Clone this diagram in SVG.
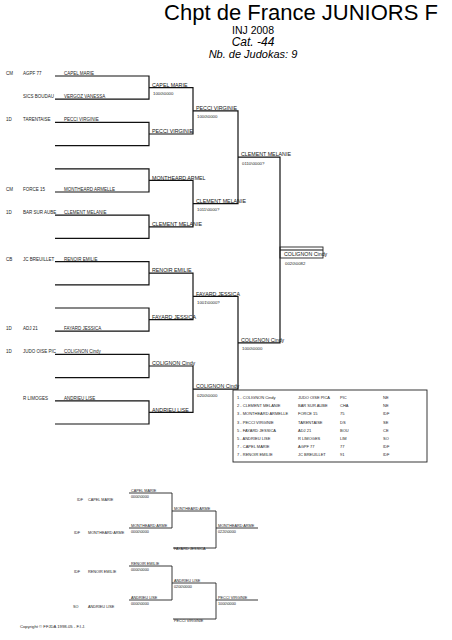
<svg xmlns="http://www.w3.org/2000/svg" width="452" height="640" viewBox="0 0 452 640">
<style>
text{font-family:"Liberation Sans",Arial,sans-serif;fill:#222}
.ti{font-size:22px;fill:#000}
.st{font-size:10.5px;fill:#000}
.it{font-style:italic}
.n1{font-size:4.5px}
.w{font-size:5.3px;fill:#111}
.s{font-size:4.3px}
.tb{font-size:4px}
.rp{font-size:3.8px}
.rs{font-size:3.8px}
.cp{font-size:4.2px}
.ln{stroke:#111;stroke-width:1.2;fill:none}
.lt{stroke:#222;stroke-width:0.9;fill:none}
</style>
<rect width="452" height="640" fill="#fff"/>
<g id="header">
<text class="ti" x="301" y="20" text-anchor="middle">Chpt de France JUNIORS F</text>
<text class="st" x="253" y="33.5" text-anchor="middle">INJ 2008</text>
<text class="st it" x="253" y="45.5" text-anchor="middle" style="font-size:12px">Cat. -44</text>
<text class="st it" x="253" y="57.5" text-anchor="middle" style="font-size:11px">Nb. de Judokas: 9</text>
</g>
<g id="connectors">
<path class="ln" d="M55 76H149V99.2H55M149 87.6H193V134H149M55 122.4H149V145.6H55"/>
<path class="ln" d="M55 168.8H149V192H55M149 180.4H193V226.8H149M55 215.2H149V238.4H55"/>
<path class="ln" d="M55 261.6H149V284.8H55M149 273.2H193V319.6H149M55 308H149V331.2H55"/>
<path class="ln" d="M55 354.4H149V377.6H55M149 366H193V412.4H149M55 400.8H149V424H55"/>
<path class="ln" d="M193 110.8H238V203.6H193M193 296.4H238V389.2H193"/>
<path class="ln" d="M238 157.2H280V342.8H238"/>
<path class="ln" d="M280 250H323"/>
<rect class="lt" x="280" y="247" width="43" height="11"/>
<path class="lt" d="M129 493H172V528H129M172 511H216V548H173M216 528H258"/>
<path class="lt" d="M129 566H172V600H129M172 583H216V619H173M216 600H258"/>
</g>
<g id="round1">
<g id="e1"><text class="n1" x="6" y="75">CM</text><text class="n1" x="23" y="75">AGPF 77</text><text class="n1" x="64" y="75">CAPEL MARIE</text></g>
<g id="e2"><text class="n1" x="23" y="98.2">SICS BOUDAU</text><text class="n1" x="64" y="98.2">VERGOZ VANESSA</text></g>
<g id="e3"><text class="n1" x="6" y="121.4">1D</text><text class="n1" x="23" y="121.4">TARENTAISE</text><text class="n1" x="64" y="121.4">PECCI VIRGINIE</text></g>
<g id="e6"><text class="n1" x="6" y="191">CM</text><text class="n1" x="23" y="191">FORCE 15</text><text class="n1" x="64" y="191">MONTHEARD ARMELLE</text></g>
<g id="e7"><text class="n1" x="6" y="214.2">1D</text><text class="n1" x="23" y="214.2">BAR SUR AUBE</text><text class="n1" x="64" y="214.2">CLEMENT MELANIE</text></g>
<g id="e9"><text class="n1" x="6" y="260.6">CB</text><text class="n1" x="23" y="260.6">JC BREUILLET</text><text class="n1" x="64" y="260.6">RENOIR EMILIE</text></g>
<g id="e12"><text class="n1" x="6" y="330.2">1D</text><text class="n1" x="23" y="330.2">ADJ 21</text><text class="n1" x="64" y="330.2">FAYARD JESSICA</text></g>
<g id="e13"><text class="n1" x="6" y="353.4">1D</text><text class="n1" x="23" y="353.4">JUDO OISE PIC</text><text class="n1" x="64" y="353.4">COLIGNON Cindy</text></g>
<g id="e15"><text class="n1" x="23" y="399.8">R LIMOGES</text><text class="n1" x="64" y="399.8">ANDRIEU LISE</text></g>
</g>
<g id="round2">
<g id="m2a"><text class="w" x="152" y="86.8">CAPEL MARIE</text><text class="s" x="153" y="95">1000\0000</text></g>
<g id="m2b"><text class="w" x="152" y="133.2">PECCI VIRGINIE</text></g>
<g id="m2c"><text class="w" x="152" y="179.6">MONTHEARD ARMEL</text></g>
<g id="m2d"><text class="w" x="152" y="226">CLEMENT MELANIE</text></g>
<g id="m2e"><text class="w" x="152" y="272.4">RENOIR EMILIE</text></g>
<g id="m2f"><text class="w" x="152" y="318.8">FAYARD JESSICA</text></g>
<g id="m2g"><text class="w" x="152" y="365.2">COLIGNON Cindy</text></g>
<g id="m2h"><text class="w" x="152" y="411.6">ANDRIEU LISE</text></g>
</g>
<g id="round3">
<g id="m3a"><text class="w" x="196" y="110">PECCI VIRGINIE</text><text class="s" x="197" y="118">1000\0000</text></g>
<g id="m3b"><text class="w" x="196" y="202.8">CLEMENT MELANIE</text><text class="s" x="197" y="211">1011\0000?</text></g>
<g id="m3c"><text class="w" x="196" y="295.6">FAYARD JESSICA</text><text class="s" x="197" y="304">1001\0000?</text></g>
<g id="m3d"><text class="w" x="196" y="388.4">COLIGNON Cindy</text><text class="s" x="197" y="397">0200\0000</text></g>
</g>
<g id="round4">
<g id="m4a"><text class="w" x="241" y="156.4">CLEMENT MELANIE</text><text class="s" x="242" y="165">0110\0000?</text></g>
<g id="m4b"><text class="w" x="241" y="342">COLIGNON Cindy</text><text class="s" x="242" y="350">1000\0000</text></g>
</g>
<g id="final">
<text class="w" x="284" y="256">COLIGNON Cindy</text><text class="s" x="285" y="265">0020\0082</text>
</g>
<g id="results">
<rect class="lt" x="233" y="390" width="194" height="72"/>
<text class="tb" x="237" y="399">1 - COLIGNON Cindy</text><text class="tb" x="298" y="399">JUDO OISE PICA</text><text class="tb" x="340" y="399">PIC</text><text class="tb" x="383" y="399">NE</text>
<text class="tb" x="237" y="407.2">2 - CLEMENT MELANIE</text><text class="tb" x="298" y="407.2">BAR SUR AUBE</text><text class="tb" x="340" y="407.2">CHA</text><text class="tb" x="383" y="407.2">NE</text>
<text class="tb" x="237" y="415.4">3 - MONTHEARD ARMELLE</text><text class="tb" x="298" y="415.4">FORCE 15</text><text class="tb" x="340" y="415.4">75</text><text class="tb" x="383" y="415.4">IDF</text>
<text class="tb" x="237" y="423.6">3 - PECCI VIRGINIE</text><text class="tb" x="298" y="423.6">TARENTAISE</text><text class="tb" x="340" y="423.6">DS</text><text class="tb" x="383" y="423.6">SE</text>
<text class="tb" x="237" y="431.8">5 - FAYARD JESSICA</text><text class="tb" x="298" y="431.8">ADJ 21</text><text class="tb" x="340" y="431.8">BOU</text><text class="tb" x="383" y="431.8">CE</text>
<text class="tb" x="237" y="440">5 - ANDRIEU LISE</text><text class="tb" x="298" y="440">R LIMOGES</text><text class="tb" x="340" y="440">LIM</text><text class="tb" x="383" y="440">SO</text>
<text class="tb" x="237" y="448.2">7 - CAPEL MARIE</text><text class="tb" x="298" y="448.2">AGPF 77</text><text class="tb" x="340" y="448.2">77</text><text class="tb" x="383" y="448.2">IDF</text>
<text class="tb" x="237" y="456.4">7 - RENOIR EMILIE</text><text class="tb" x="298" y="456.4">JC BREUILLET</text><text class="tb" x="340" y="456.4">91</text><text class="tb" x="383" y="456.4">IDF</text>
</g>
<g id="repechage">
<g id="r1"><text class="rp" x="77" y="501">IDF</text><text class="rp" x="88" y="501">CAPEL MARIE</text></g>
<g id="r2"><text class="rp" x="74" y="534">IDF</text><text class="rp" x="88" y="534">MONTHEARD ARME</text></g>
<g id="r3"><text class="rp" x="74" y="573">IDF</text><text class="rp" x="88" y="573">RENOIR EMILIE</text></g>
<g id="r4"><text class="rp" x="73" y="608">SO</text><text class="rp" x="88" y="608">ANDRIEU LISE</text></g>
<g id="rc1"><text class="rp" x="131" y="492">CAPEL MARIE</text><text class="rs" x="131" y="498">0000\0000</text></g>
<g id="rc2"><text class="rp" x="131" y="527">MONTHEARD ARME</text><text class="rs" x="131" y="533">0000\0000</text></g>
<g id="rc3"><text class="rp" x="174" y="510">MONTHEARD ARME</text></g>
<g id="rc4"><text class="rp" x="174" y="549.5">FAYARD JESSICA</text></g>
<g id="rc5"><text class="rp" x="218" y="527">MONTHEARD ARME</text><text class="rs" x="218" y="533">0220\0000</text></g>
<g id="rc6"><text class="rp" x="131" y="565">RENOIR EMILIE</text><text class="rs" x="131" y="571">0000\0000</text></g>
<g id="rc7"><text class="rp" x="131" y="599">ANDRIEU LISE</text><text class="rs" x="131" y="605">0000\0000</text></g>
<g id="rc8"><text class="rp" x="174" y="582">ANDRIEU LISE</text><text class="rs" x="174" y="588">0200\0000</text></g>
<g id="rc9"><text class="rp" x="174" y="621.5">PECCI VIRGINIE</text></g>
<g id="rc10"><text class="rp" x="218" y="599">PECCI VIRGINIE</text><text class="rs" x="218" y="605">1000\0000</text></g>
</g>
<text class="cp" x="20" y="628">Copyright © FFJDA 1998-05 - F.I.J.</text>
</svg>
